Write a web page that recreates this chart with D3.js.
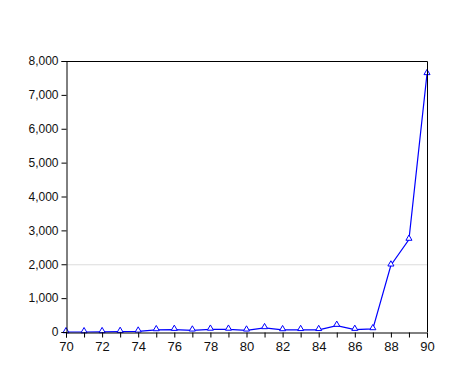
<!DOCTYPE html>
<html>
<head>
<meta charset="utf-8">
<script src="https://cdn.jsdelivr.net/npm/d3@7"></script>
<style>
  body { margin: 0; background: #fff; }
  text { font-family: "Liberation Sans", Arial, sans-serif; }
</style>
</head>
<body>
<div id="chart"></div>
<script>
const years = [70, 71, 72, 73, 74, 75, 76, 77, 78, 79, 80, 81, 82, 83, 84, 85, 86, 87, 88, 89, 90]
const values = [0, 0, 3, 10, 20, 60, 70, 50, 75, 75, 50, 120, 60, 65, 65, 190, 70, 90, 1970, 2730, 7620]
const yTicks = [0, 1000, 2000, 3000, 4000, 5000, 6000, 7000, 8000]
const xLabels = [70, 72, 74, 76, 78, 80, 82, 84, 86, 88, 90]
const gridAt = [2000]

const width = 460, height = 378
const margin = { top: 61, right: 33, bottom: 46, left: 66 }

const svg = d3.select('#chart')
  .append('svg')
  .attr('width', width)
  .attr('height', height)

const x = d3.scaleLinear().domain([70, 90]).range([margin.left, width - margin.right])
const y = d3.scaleLinear().domain([0, 8000]).range([height - margin.bottom, margin.top])

const data = years.map((yr, i) => ({ yr, v: values[i] }))

// grid line
svg.selectAll('line.grid')
  .data(gridAt)
  .join('line')
  .attr('class', 'grid')
  .attr('x1', x(70)).attr('x2', x(90))
  .attr('y1', d => y(d) + 0.5).attr('y2', d => y(d) + 0.5)
  .attr('stroke', '#dcdcdc')

// series line
svg.append('path')
  .datum(data)
  .attr('fill', 'none')
  .attr('stroke', '#0000ff')
  .attr('stroke-width', 1.2)
  .attr('d', d3.line().x(d => x(d.yr)).y(d => y(d.v)))

// triangle markers
const tri = d3.symbol().type(d3.symbolTriangle).size(16)
svg.selectAll('path.mark')
  .data(data)
  .join('path')
  .attr('class', 'mark')
  .attr('transform', d => `translate(${x(d.yr)},${y(d.v) - 1})`)
  .attr('d', tri)
  .attr('fill', '#fff')
  .attr('stroke', '#0000ff')
  .attr('stroke-width', 1)

// frame (top + right)
svg.append('path')
  .attr('d', `M${x(70)},${y(8000) + 0.5}H${x(90) + 0.5}V${y(0)}`)
  .attr('fill', 'none')
  .attr('stroke', '#000')

const fmt = d3.format(',')

const yAxis = svg.append('g')
  .attr('transform', `translate(${x(70) + 0.5},0)`)
  .call(d3.axisLeft(y).tickValues(yTicks).tickFormat(fmt).tickSize(5).tickPadding(3))
yAxis.select('.domain').attr('stroke', '#000')
yAxis.selectAll('text').attr('font-size', 12).attr('fill', '#111')
  .attr('font-family', '"Liberation Sans", Arial, sans-serif')

const xAxis = svg.append('g')
  .attr('transform', `translate(0,${y(0) + 0.5})`)
  .call(d3.axisBottom(x).tickValues(years).tickSize(5).tickPadding(4)
    .tickFormat(d => xLabels.includes(d) ? d : ''))
xAxis.select('.domain').attr('stroke', '#000')
xAxis.selectAll('text').attr('font-size', 13).attr('fill', '#111')
  .attr('font-family', '"Liberation Sans", Arial, sans-serif')
</script>
</body>
</html>
